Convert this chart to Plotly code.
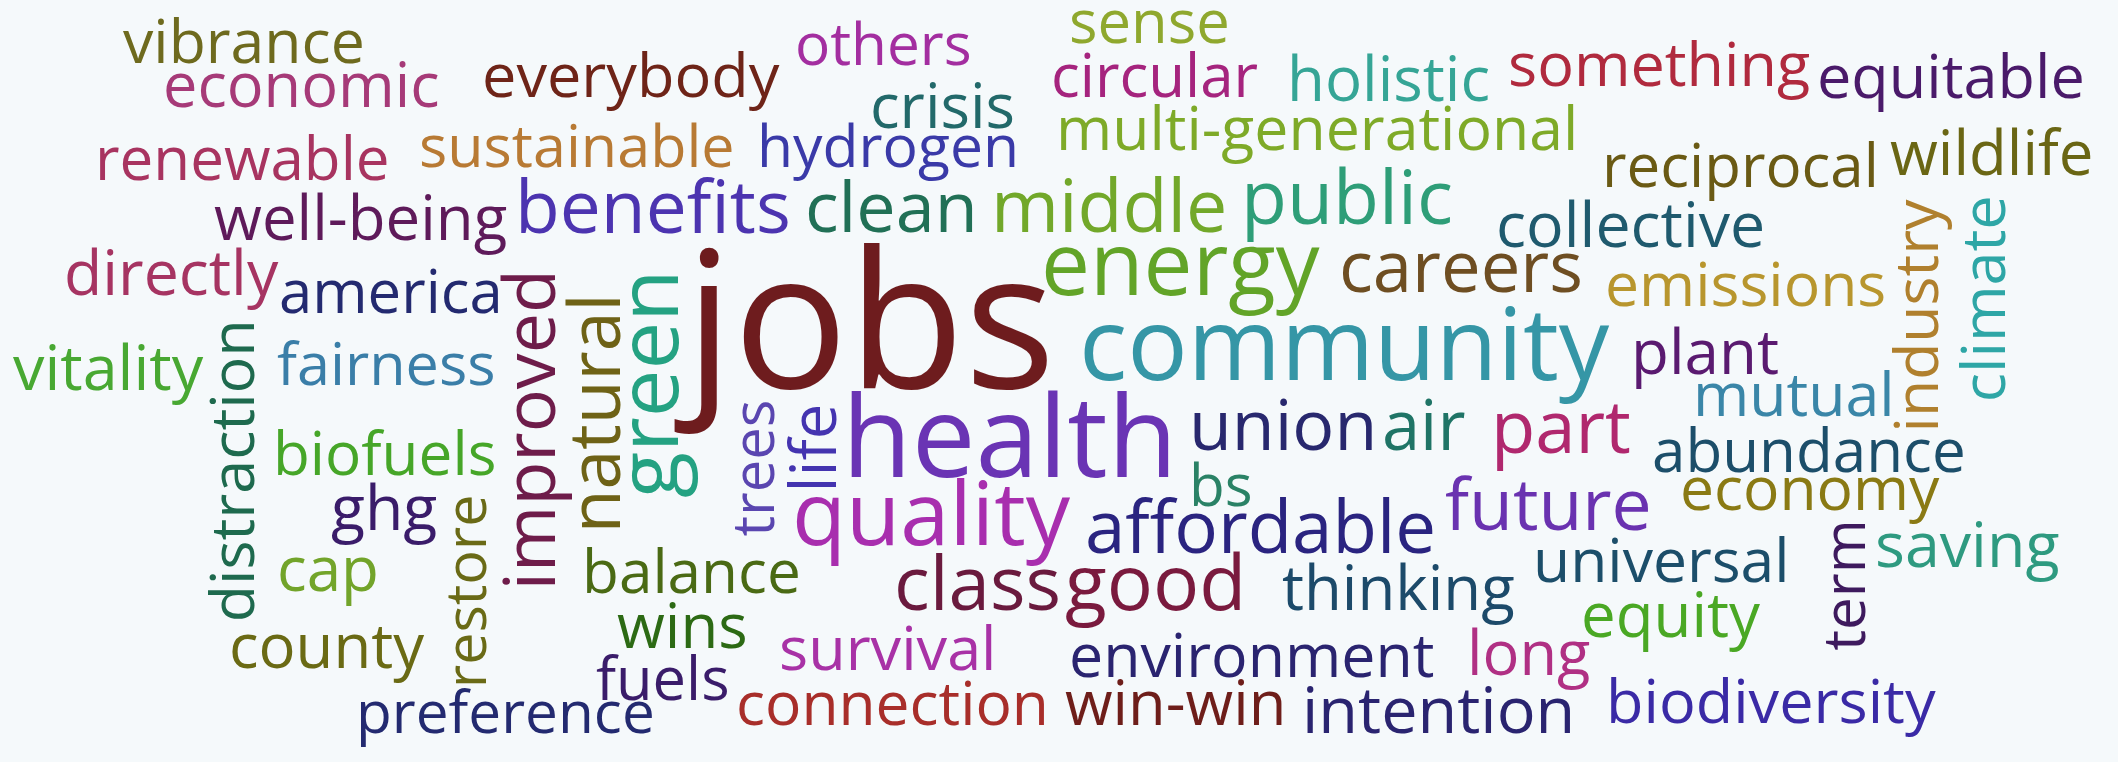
import plotly.graph_objects as go

# ---- data: the words of the cloud ----
words = [
    "vibrance", "economic", "everybody", "others", "sense", "circular", "holistic",
    "something", "equitable", "crisis", "renewable", "sustainable", "hydrogen",
    "multi-generational", "reciprocal", "wildlife", "well-being", "benefits", "clean",
    "middle", "public", "collective", "directly", "america", "energy", "careers",
    "emissions", "jobs", "community", "vitality", "fairness", "plant", "mutual",
    "health", "union", "air", "part", "abundance", "biofuels", "bs", "economy", "ghg",
    "quality", "affordable", "future", "saving", "cap", "balance", "universal",
    "class", "good", "thinking", "equity", "wins", "county", "survival",
    "environment", "long", "fuels", "connection", "win-win", "intention",
    "biodiversity", "preference",
    "distraction", "improved", "natural", "green", "restore", "trees", "life",
    "industry", "climate", "term",
]

# ---- layout of the cloud (pixel space of the 2118 x 762 canvas) ----
# horizontal words: span = left..right, base = baseline y
# vertical words (read bottom-to-top): span = top..bottom, base = baseline x
rotation = [0] * 64 + [-90] * 10
span_start = [
    125, 165, 484, 797, 1071, 1053, 1289, 1510, 1819, 872, 97, 421, 759,
    1058, 1604, 1892, 216, 518, 808, 993, 1244, 1498, 67, 281, 1044, 1342,
    1607, 686, 1083, 16, 279, 1633, 1695, 846, 1191, 1384, 1494, 1654, 275, 1191, 1682, 333,
    796, 1087, 1448, 1877, 279, 584, 1535, 897, 1067, 1284, 1583, 619, 231, 781,
    1071, 1469, 598, 738, 1067, 1304, 1608, 358,
    322, 272, 296, 273, 497, 402, 406, 202, 198, 521,
]
span_end = [
    362, 437, 777, 969, 1227, 1255, 1487, 1808, 2082, 1012, 387, 732, 1017,
    1576, 1876, 2091, 505, 788, 975, 1224, 1450, 1762, 276, 500, 1316, 1580,
    1884, 1042, 1606, 201, 493, 1776, 1892, 1172, 1374, 1462, 1628, 1963, 494, 1250, 1937, 435,
    1067, 1433, 1649, 2057, 376, 798, 1787, 1058, 1243, 1512, 1757, 745, 421, 994,
    1432, 1588, 727, 1046, 1284, 1572, 1933, 652,
    620, 588, 530, 495, 686, 534, 490, 430, 400, 648,
]
base = [
    63, 107, 97, 65, 43, 97, 101, 86, 98, 128, 180, 167, 167,
    150, 187, 175, 240, 233, 232, 232, 224, 247, 295, 313, 295, 292,
    306, 388, 380, 390, 385, 374, 416, 477, 450, 450, 453, 472, 475, 506, 510, 530,
    545, 553, 530, 567, 591, 593, 582, 610, 610, 610, 637, 648, 668, 670,
    677, 675, 700, 725, 725, 733, 723, 733,
    254, 555, 620, 678, 486, 773, 836, 1938, 2005, 1865,
]
colors = [
    "#6e6a1e", "#a63a78", "#6e2418", "#a32ea0", "#8fa82e", "#a5247e", "#35a596",
    "#b02a3e", "#4a1a6a", "#22696a", "#a83460", "#b87a34", "#3a3aa8",
    "#7eaa28", "#6a5a14", "#6a6614", "#5e1a5a", "#4c34b0", "#217056",
    "#72a82a", "#2e9e78", "#1f5a6e", "#a63462", "#232a70", "#62a428", "#6e4e22",
    "#b8962e", "#6e1c1e", "#3596a6", "#48a832", "#3a7ea8", "#5a1a70", "#3a86a8",
    "#6a34b4", "#28286e", "#1f7466", "#b0286e", "#1c4e6a", "#46a628", "#2a8266", "#8a7a14", "#3a1c6a",
    "#a82eae", "#2a2480", "#6a32b0", "#2e9a80", "#72a42a", "#4a6a14", "#1c4e6a",
    "#6a1a3e", "#7a1a3e", "#1c4a6a", "#4aa824", "#2c6a14", "#6a6a14", "#a832a6",
    "#2a2470", "#b03084", "#3a1c6a", "#a82e2a", "#6e1e1a", "#2a2470",
    "#3a2aa6", "#232a70",
    "#1e6a4e", "#6e1c4a", "#6e6216", "#24a282", "#6a6a16", "#5a46b0", "#4434b0",
    "#b0802e", "#2ea6a6", "#3e1a5e",
]

FONT = "Open Sans"
# approximate Open Sans advance widths (units per 2048 em)
ADV = {
    "a": 1139, "b": 1255, "c": 975, "d": 1255, "e": 1149, "f": 694, "g": 1122,
    "h": 1257, "i": 518, "j": 518, "k": 1075, "l": 518, "m": 1905, "n": 1257,
    "o": 1237, "p": 1255, "q": 1255, "r": 836, "s": 977, "t": 723, "u": 1257,
    "v": 1026, "w": 1593, "x": 1073, "y": 1028, "z": 977, "-": 659,
}
MID = 0.388  # text-box middle above baseline, in em


def em_width(word):
    return sum(ADV.get(ch, 1100) for ch in word) / 2048.0


annotations = []
for w, r, s0, s1, b, c in zip(words, rotation, span_start, span_end, base, colors):
    size = (s1 - s0) / (em_width(w) - 0.08)
    if r == 0:
        x, y = (s0 + s1) / 2.0, b - MID * size
    else:
        x, y = b - MID * size, (s0 + s1) / 2.0
    annotations.append(dict(
        x=x, y=y, xref="x", yref="y", text=w, showarrow=False, textangle=r,
        xanchor="center", yanchor="middle", borderpad=0,
        font=dict(family=FONT, size=size, color=c),
    ))

BG = "#f5f9fb"
fig = go.Figure()
fig.update_layout(
    width=2118, height=762,
    margin=dict(l=0, r=0, t=0, b=0),
    paper_bgcolor=BG, plot_bgcolor=BG,
    showlegend=False,
    annotations=annotations,
    xaxis=dict(range=[0, 2118], visible=False, fixedrange=True),
    yaxis=dict(range=[762, 0], visible=False, fixedrange=True),
)
fig.write_html(
    "out.html",
    config={"displayModeBar": False},
    post_script="document.body.style.margin='0';document.body.style.overflow='hidden';"
                "document.body.style.background='" + BG + "';",
)
